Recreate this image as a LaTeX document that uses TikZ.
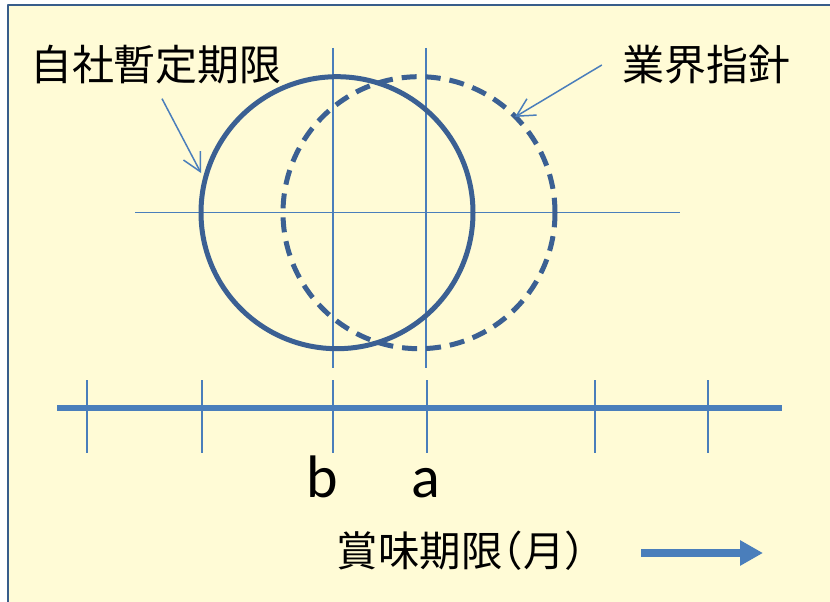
\documentclass[tikz,border=0pt]{standalone}
\usepackage{fontspec}
\usetikzlibrary{arrows.meta}
\newfontfamily\jpfont{Noto Sans CJK JP}
\newfontfamily\jphalf[CharacterWidth=AlternateHalf]{Noto Sans CJK JP}
\newfontfamily\latinfont{Carlito}
\definecolor{paleyellow}{HTML}{FFFBD6}
\definecolor{darkblue}{HTML}{3B6093}
\definecolor{midblue}{HTML}{4A7EBB}
\definecolor{edgeblue}{HTML}{385D8A}
\tikzset{
    lab/.style={
        font=\jpfont\fontsize{42}{48}\selectfont, inner sep=0pt
    },
    axlab/.style={
        font=\latinfont\fontsize{60}{70}\selectfont, inner sep=0pt
    },
    guide/.style={line width=1.5pt, color=midblue},
    ring/.style={line width=5pt, color=darkblue},
    pointer/.style={line width=1.5pt, color=midblue, -{Straight Barb[length=18pt,width=19pt]}}
}

\begin{document}
\begin{tikzpicture}[x=1pt,y=-1pt, line join=round]

\useasboundingbox (0,0) rectangle (830,602);
\fill[white] (0,0) rectangle (830,602);
\clip (0,0) rectangle (830,602);
\draw[edgeblue, line width=2.5pt, fill=paleyellow] (8,5) rectangle (845,615);

\def\yC{212.7}
\def\rC{136pt}

% cross lines
\draw[guide] (135,\yC) -- (680,\yC);
\draw[guide] (333,48) -- (333,368);
\draw[guide] (426,48) -- (426,368);

% the two ranges
\draw[ring] (337,\yC) circle (\rC);
\draw[ring, dash pattern=on 15pt off 9pt] (419,\yC) circle (\rC);

% axis
\draw[line width=6pt, color=midblue] (57,408) -- (782,408);
\foreach \x in {87,202,333,427,595,708} {
  \draw[guide] (\x,380) -- (\x,453);
}

\node[axlab, anchor=base] (bLbl) at (322,497) {b};
\node[axlab, anchor=base] (aLbl) at (426,497) {a};
\node[lab] (ownLbl) at (156,65) {自社暫定期限};
\node[lab] (guideLbl) at (706,65) {業界指針};
\node[lab, font=\jphalf\fontsize{41.5}{46}\selectfont] (shelfLbl) at (461,551) {賞味期限（月）};

% pointers to the circles
\coordinate (ownTip) at (201,173);
\coordinate (guideTip) at (515,117);
\draw[pointer] ([xshift=6pt,yshift=-14pt]ownLbl.south) -- (ownTip);
\draw[pointer] ([xshift=-20pt]guideLbl.west) -- (guideTip);

% direction arrow
\coordinate (flowTail) at (641,553);
\coordinate (flowTip) at (763,553);
\draw[line width=7.5pt, color=midblue, -{Triangle[length=23pt,width=24pt]}] (flowTail) -- (flowTip);

\end{tikzpicture}
\end{document}
